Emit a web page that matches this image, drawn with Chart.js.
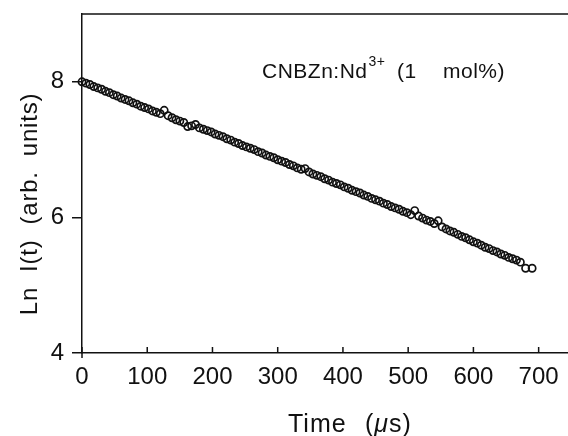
<!DOCTYPE html>
<html>
<head>
<meta charset="utf-8">
<script src="https://cdn.jsdelivr.net/npm/chart.js@4.4.1/dist/chart.umd.min.js"></script>
<style>
  html, body { margin: 0; padding: 0; background: #fff; }
  canvas { display: block; }
</style>
</head>
<body>
<canvas id="myChart" width="568" height="436"></canvas>
<script>
// Decay data
const timeUs = [
  0, 6, 12, 18, 24, 30, 36, 42, 48, 54, 60, 66, 72, 78, 84, 90, 96, 102, 108, 114,
  120, 126, 132, 138, 144, 150, 156, 162, 168, 174, 180, 186, 192, 198, 204, 210, 216, 222, 228, 234,
  240, 246, 252, 258, 264, 270, 276, 282, 288, 294, 300, 306, 312, 318, 324, 330, 336, 342, 348, 354,
  360, 366, 372, 378, 384, 390, 396, 402, 408, 414, 420, 426, 432, 438, 444, 450, 456, 462, 468, 474,
  480, 486, 492, 498, 504, 510, 516, 522, 528, 534, 540, 546, 552, 558, 564, 570, 576, 582, 588, 594,
  600, 606, 612, 618, 624, 630, 636, 642, 648, 654, 660, 666, 672, 680, 690
];
const lnIntensity = [
  8.00, 7.98, 7.96, 7.93, 7.91, 7.89, 7.86, 7.84, 7.81, 7.79, 7.76, 7.74, 7.72, 7.69, 7.67, 7.64, 7.62, 7.60, 7.57, 7.55,
  7.53, 7.58, 7.50, 7.47, 7.44, 7.42, 7.40, 7.34, 7.35, 7.37, 7.32, 7.30, 7.28, 7.26, 7.23, 7.21, 7.19, 7.16, 7.14, 7.11,
  7.09, 7.06, 7.04, 7.02, 7.00, 6.97, 6.95, 6.92, 6.90, 6.88, 6.85, 6.83, 6.81, 6.78, 6.76, 6.73, 6.71, 6.72, 6.67, 6.64,
  6.62, 6.60, 6.57, 6.55, 6.52, 6.50, 6.48, 6.45, 6.43, 6.40, 6.38, 6.36, 6.33, 6.31, 6.28, 6.26, 6.24, 6.21, 6.19, 6.16,
  6.14, 6.12, 6.09, 6.07, 6.04, 6.10, 6.02, 5.99, 5.96, 5.94, 5.91, 5.95, 5.86, 5.83, 5.80, 5.78, 5.75, 5.72, 5.70, 5.67,
  5.64, 5.62, 5.59, 5.56, 5.54, 5.51, 5.49, 5.46, 5.44, 5.41, 5.39, 5.37, 5.34, 5.25, 5.25
];

const xTicks = [0, 100, 200, 300, 400, 500, 600, 700];
const yTicks = [4, 6, 8];

const ink = '#111';
const fontFamily = '"Liberation Sans", Arial, sans-serif';

// Extra drawing: top frame line, inward x ticks, label text
const decorPlugin = {
  id: 'decor',
  afterDraw(chart) {
    const ctx = chart.ctx;
    const area = chart.chartArea;
    const xs = chart.scales.x;
    ctx.save();
    ctx.strokeStyle = ink;
    ctx.lineWidth = 1.3;
    ctx.beginPath();
    ctx.moveTo(area.left, area.top);
    ctx.lineTo(area.right, area.top);
    ctx.stroke();

    ctx.lineWidth = 1.5;
    xTicks.forEach(v => {
      const px = xs.getPixelForValue(v);
      ctx.beginPath();
      ctx.moveTo(px, area.bottom + (v === 0 ? 5 : 0));
      ctx.lineTo(px, area.bottom - 6);
      ctx.stroke();
    });

    ctx.fillStyle = ink;
    if ('letterSpacing' in ctx) ctx.letterSpacing = '0.5px';
    ctx.textBaseline = 'alphabetic';
    ctx.textAlign = 'left';
    ctx.font = '21px ' + fontFamily;
    ctx.fillText('CNBZn:Nd', 262, 78);
    const w = ctx.measureText('CNBZn:Nd').width;
    ctx.font = '14px ' + fontFamily;
    ctx.fillText('3+', 262 + w + 1, 66);
    ctx.font = '21px ' + fontFamily;
    ctx.fillText('(1', 397, 78);
    ctx.fillText('mol%)', 443, 78);

    // x title
    if ('letterSpacing' in ctx) ctx.letterSpacing = '1px';
    ctx.font = '25px ' + fontFamily;
    let x = 288;
    ctx.fillText('Time', x, 432);
    x = 365;
    ctx.fillText('(', x, 432);
    x += ctx.measureText('(').width;
    ctx.font = 'italic 25px ' + fontFamily;
    ctx.fillText('\u03bc', x, 432);
    x += ctx.measureText('\u03bc').width;
    ctx.font = '25px ' + fontFamily;
    ctx.fillText('s)', x, 432);

    // y title
    if ('letterSpacing' in ctx) ctx.letterSpacing = '0.8px';
    ctx.translate(37, 204);
    ctx.rotate(-Math.PI / 2);
    ctx.textAlign = 'center';
    ctx.font = '24px ' + fontFamily;
    ctx.fillText('Ln  I(t)  (arb.  units)', 0, 0);
    ctx.restore();
  }
};

new Chart(document.getElementById('myChart'), {
  type: 'scatter',
  data: {
    datasets: [{
      data: timeUs.map((t, i) => ({ x: t, y: lnIntensity[i] })),
      pointStyle: 'circle',
      pointRadius: 3.6,
      borderWidth: 1.7,
      borderColor: ink,
      backgroundColor: 'rgba(255,255,255,0)',
      clip: false
    }]
  },
  options: {
    responsive: false,
    animation: false,
    devicePixelRatio: 1,
    layout: { autoPadding: false, padding: { top: 14, right: 0, left: 0, bottom: 0 } },
    plugins: {
      legend: { display: false },
      tooltip: { enabled: false }
    },
    scales: {
      x: {
        type: 'linear',
        min: 0,
        max: 745,
        afterBuildTicks: s => { s.ticks = xTicks.map(v => ({ value: v })); },
        afterFit: s => { s.height = 83; s.paddingLeft = 0; s.paddingRight = 0; },
        grid: { drawOnChartArea: false, drawTicks: false },
        border: { color: ink, width: 1.5 },
        ticks: {
          color: ink,
          padding: 10,
          maxRotation: 0,
          font: { family: fontFamily, size: 24 }
        }
      },
      y: {
        min: 4,
        max: 9,
        afterBuildTicks: s => { s.ticks = yTicks.map(v => ({ value: v })); },
        afterFit: s => { s.width = 82; s.paddingTop = 0; s.paddingBottom = 0; },
        grid: { drawOnChartArea: false, drawTicks: true, tickLength: 10, color: ink, lineWidth: 1.5 },
        border: { color: ink, width: 1.5 },
        ticks: {
          color: ink,
          padding: 8,
          font: { family: fontFamily, size: 24 }
        }
      }
    }
  },
  plugins: [decorPlugin]
});
</script>
</body>
</html>
